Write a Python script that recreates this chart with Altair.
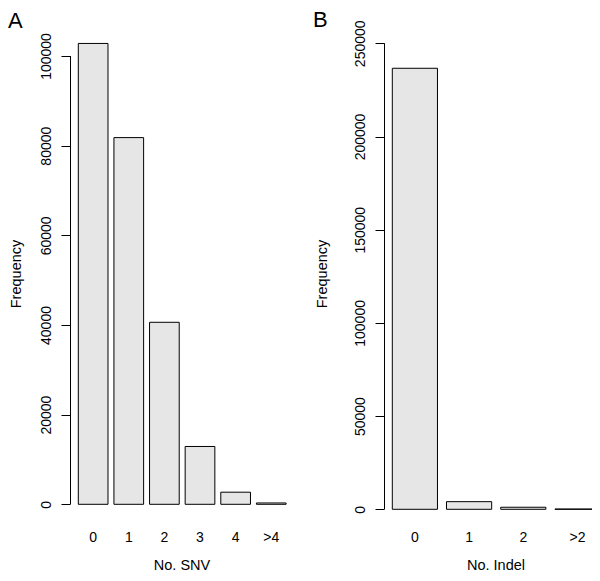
import altair as alt
import pandas as pd

# ---- data ----
snv_categories = ["0", "1", "2", "3", "4", ">4"]
snv_counts = [102800, 81800, 40600, 12900, 2700, 300]
snv_ticks = [0, 20000, 40000, 60000, 80000, 100000]

indel_categories = ["0", "1", "2", ">2"]
indel_counts = [236600, 4100, 1100, 150]
indel_ticks = [0, 50000, 100000, 150000, 200000, 250000]

panel_labels = ["A", "B"]
x_titles = ["No. SNV", "No. Indel"]
y_title = "Frequency"

FONT = "Liberation Sans"
H = 503


def panel(cats, counts, ticks, ydomain, width, xrange, pad_outer,
          letter, letter_x, letter_y, xtitle, ytitle_x):
    df = pd.DataFrame({"cat": cats, "count": counts})
    x = alt.X(
        "cat:N", sort=cats,
        scale=alt.Scale(range=[0, xrange], paddingInner=1 / 6, paddingOuter=pad_outer),
        axis=None,
    )
    y = alt.Y(
        "count:Q",
        scale=alt.Scale(domain=ydomain, nice=False),
        axis=alt.Axis(
            values=ticks, format="d", title=y_title, grid=False, domain=False,
            tickSize=9, tickColor="black", tickWidth=1,
            labelAngle=270, labelAlign="center", labelBaseline="alphabetic",
            labelPadding=11, labelFontSize=14, labelFont=FONT, labelColor="black",
            labelOverlap=False, labelFlush=False,
            titleFont=FONT, titleFontSize=14.5, titleFontWeight="normal",
            titleColor="black", titleAngle=270, titleX=ytitle_x, titleY=248.5,
            titleBaseline="alphabetic", titleAlign="center",
        ),
    )
    base = alt.Chart(df)
    bars = base.mark_bar(
        fill="#e6e6e6", stroke="black", strokeWidth=1, clip=True
    ).encode(x=x, y=y)

    # category labels under the bars, positioned by the band scale
    xlabels = base.mark_text(
        baseline="alphabetic", align="center", fontSize=14, font=FONT, color="black"
    ).encode(x=x, y=alt.value(H + 14), text="cat:N")

    rule = alt.Chart(pd.DataFrame({"count": [ticks[0]], "hi": [ticks[-1]]})).mark_rule(
        color="black", strokeWidth=1
    ).encode(x=alt.value(0.5), y="count:Q", y2="hi:Q")

    lab = alt.Chart(pd.DataFrame({"label": [letter]})).mark_text(
        align="left", baseline="alphabetic", fontSize=22, font=FONT, color="black"
    ).encode(x=alt.value(letter_x), y=alt.value(letter_y), text="label:N")

    xt = alt.Chart(pd.DataFrame({"label": [xtitle]})).mark_text(
        align="center", baseline="alphabetic", fontSize=14.5, font=FONT, color="black"
    ).encode(x=alt.value(112), y=alt.value(H + 41.5), text="label:N")

    return alt.layer(bars, rule, xlabels, lab, xt).properties(width=width, height=H)


pA = panel(snv_categories, snv_counts, snv_ticks, [-5286, 106916],
           224.4, 224.4, 0.2333, panel_labels[0], -62, 3.3, x_titles[0], -50)
pB = panel(indel_categories, indel_counts, indel_ticks, [-10032, 259818],
           208, 224.4, 0.1533, panel_labels[1], -71, 2, x_titles[1], -58)

chart = alt.hconcat(pA, pB, spacing=89, bounds="flush").properties(
    padding={"left": 0, "top": 1, "right": 0, "bottom": 0}
).configure_view(stroke=None)

chart.save("out.html", embed_options={"renderer": "svg", "actions": False})
